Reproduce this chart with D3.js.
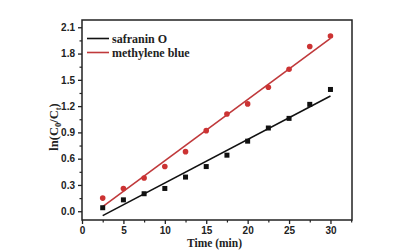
<!DOCTYPE html>
<html lang="en">
<head>
    <meta charset="utf-8">
    <title>ln(C0/Ct) vs time</title>
    <script src="https://d3js.org/d3.v7.min.js"></script>
    <style>
      body { margin: 0; background: #fff; }
      .tick-label { font-family: "Liberation Sans", Arial, sans-serif; font-weight: bold; font-size: 10px; fill: #222; }
      .axis-title { font-family: "Liberation Serif", "Times New Roman", serif; font-weight: bold; fill: #222; }
    </style>
</head>
<body>
<svg id="chart"></svg>
<script>
    // data
    const times = [2.5, 5, 7.5, 10, 12.5, 15, 17.5, 20, 22.5, 25, 27.5, 30];
    const safranin = [0.04, 0.13, 0.20, 0.26, 0.39, 0.51, 0.64, 0.80, 0.95, 1.06, 1.22, 1.39];
    const methylene = [0.15, 0.26, 0.38, 0.51, 0.68, 0.92, 1.11, 1.225, 1.415, 1.62, 1.88, 2.00];
    const seriesNames = ["safranin O", "methylene blue"];
    const xTicks = [0, 5, 10, 15, 20, 25, 30];
    const yTicks = [0.0, 0.3, 0.6, 0.9, 1.2, 1.5, 1.8, 2.1];

    const W = 414, H = 251;
    const svg = d3.select("#chart").attr("width", W).attr("height", H);

    const mLeft = 82, mRight = 352, mTop = 20, mBottom = 220;

    const x = d3.scaleLinear().domain([0, 32.6]).range([mLeft, mRight]);
    const y = d3.scaleLinear().domain([-0.1, 2.183]).range([mBottom, mTop]);

    // least squares fit
    function fit(xs, ys) {
        const mx = d3.mean(xs), my = d3.mean(ys);
        let sxy = 0, sxx = 0;
        xs.forEach((v, i) => { sxy += (v - mx) * (ys[i] - my); sxx += (v - mx) * (v - mx); });
        const b = sxy / sxx;
        return t => my + b * (t - mx);
    }

    const black = "#111", red = "#cc3333", redLine = "#c0393b";

    // frame
    svg.append("rect")
        .attr("x", mLeft).attr("y", mTop)
        .attr("width", mRight - mLeft).attr("height", mBottom - mTop)
        .attr("fill", "none").attr("stroke", "#222").attr("stroke-width", 1.5);

    // x axis
    const xAxis = d3.axisBottom(x).tickValues(xTicks).tickFormat(d3.format("d")).tickSize(4).tickPadding(3);
    const gx = svg.append("g").attr("transform", `translate(0,${mBottom})`).call(xAxis);
    gx.select(".domain").remove();
    gx.selectAll("line").attr("stroke", "#222").attr("stroke-width", 1.3);
    gx.selectAll("text").attr("class", "tick-label").attr("fill", null);
    const gxm = svg.append("g").attr("transform", `translate(0,${mBottom})`)
        .call(d3.axisBottom(x).tickValues(d3.range(2.5, 32.6, 5)).tickFormat("").tickSize(2.5));
    gxm.select(".domain").remove();
    gxm.selectAll("line").attr("stroke", "#222").attr("stroke-width", 1.2);

    // y axis
    const yAxis = d3.axisLeft(y).tickValues(yTicks).tickFormat(d3.format(".1f")).tickSize(4).tickPadding(3);
    const gy = svg.append("g").attr("transform", `translate(${mLeft},0)`).call(yAxis);
    gy.select(".domain").remove();
    gy.selectAll("line").attr("stroke", "#222").attr("stroke-width", 1.3);
    gy.selectAll("text").attr("class", "tick-label").attr("fill", null);
    const gym = svg.append("g").attr("transform", `translate(${mLeft},0)`)
        .call(d3.axisLeft(y).tickValues(d3.range(-0.15, 2.16, 0.3).filter(v => v > -0.1)).tickFormat("").tickSize(2.5));
    gym.select(".domain").remove();
    gym.selectAll("line").attr("stroke", "#222").attr("stroke-width", 1.2);

    // fit lines
    const line = d3.line().x(d => x(d[0])).y(d => y(d[1]));
    const f1 = fit(times, safranin), f2 = fit(times, methylene);
    const t0 = times[0], t1 = times[times.length - 1];
    svg.append("path").datum([[t0, f1(t0)], [t1, f1(t1)]])
        .attr("d", line).attr("stroke", black).attr("stroke-width", 1.6).attr("fill", "none");
    svg.append("path").datum([[t0, f2(t0)], [t1, f2(t1)]])
        .attr("d", line).attr("stroke", redLine).attr("stroke-width", 1.6).attr("fill", "none");

    // points
    svg.selectAll(".sq").data(times).join("rect")
        .attr("x", (d, i) => x(d) - 2.5).attr("y", (d, i) => y(safranin[i]) - 2.5)
        .attr("width", 5).attr("height", 5).attr("fill", black);
    svg.selectAll(".dot").data(times).join("circle")
        .attr("cx", d => x(d)).attr("cy", (d, i) => y(methylene[i]))
        .attr("r", 2.8).attr("fill", red);

    // legend
    const legend = svg.append("g");
    [black, redLine].forEach((c, i) => {
        const ly = 38.5 + i * 14;
        legend.append("line").attr("x1", 87).attr("x2", 109).attr("y1", ly).attr("y2", ly)
            .attr("stroke", c).attr("stroke-width", 1.6);
        legend.append("text").attr("class", "axis-title").attr("x", 112).attr("y", ly + 4)
            .style("font-size", "12px").text(seriesNames[i]);
    });

    // axis titles
    svg.append("text").attr("class", "axis-title")
        .attr("x", x(16)).attr("y", 247).attr("text-anchor", "middle")
        .style("font-size", "11.5px").text("Time (min)");

    const yt = svg.append("text").attr("class", "axis-title")
        .attr("transform", `translate(58,127) rotate(-90)`)
        .attr("text-anchor", "middle").style("font-size", "12.5px");
    yt.append("tspan").text("ln(C");
    yt.append("tspan").attr("dy", 3).style("font-size", "8.5px").text("0");
    yt.append("tspan").attr("dy", -3).text("/C");
    yt.append("tspan").attr("dy", 3).style("font-size", "8.5px").text("t");
    yt.append("tspan").attr("dy", -3).text(")");
</script>
</body>
</html>
